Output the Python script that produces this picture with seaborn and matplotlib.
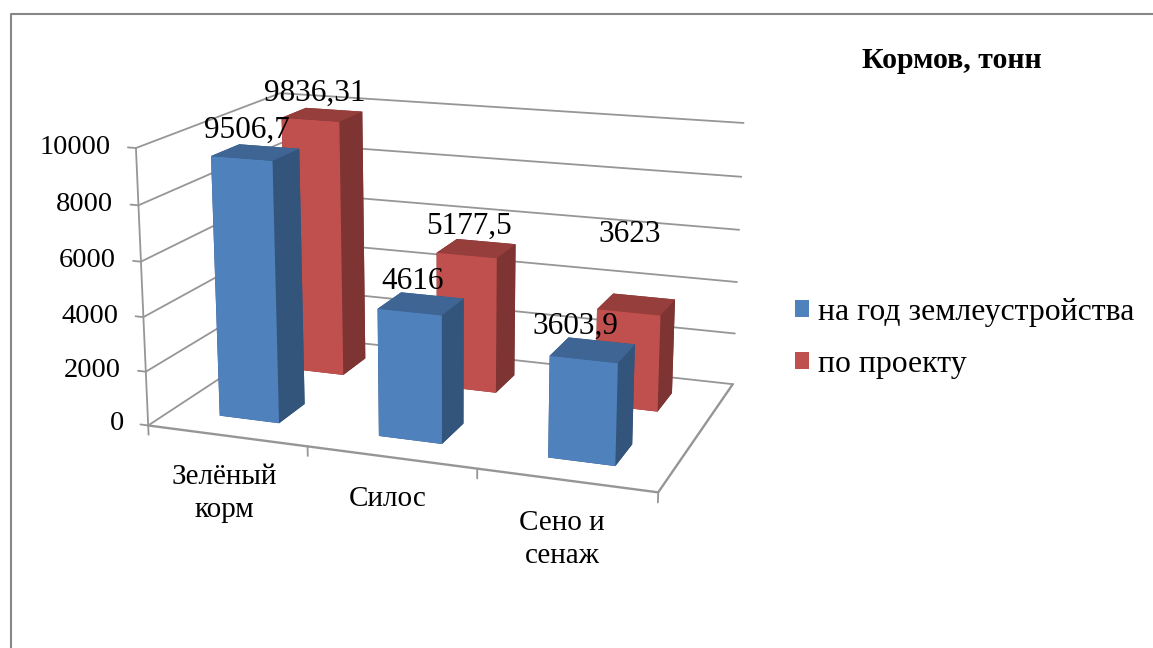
import numpy as np
import pandas as pd
import matplotlib
matplotlib.use("Agg")
import matplotlib.pyplot as plt
from matplotlib.lines import Line2D
from matplotlib.patches import Patch
import seaborn as sns

# chart values
categories = ["Зелёный\nкорм", "Силос", "Сено и\nсенаж"]
series_names = ["на год землеустройства", "по проекту"]
values_now = [9506.7, 4616, 3603.9]
values_project = [9836.31, 5177.5, 3623]
value_labels_now = ["9506,7", "4616", "3603,9"]
value_labels_project = ["9836,31", "5177,5", "3623"]
z_ticks = [0, 2000, 4000, 6000, 8000, 10000]
chart_title = "Кормов, тонн"

sns.set_theme(style="white")
plt.rcParams["font.family"] = ["Liberation Serif", "DejaVu Serif"]
plt.rcParams["text.color"] = "black"
palette = sns.color_palette(["#4F81BD", "#C0504D"])
GRID = "#969696"

df = pd.DataFrame({
    "cat": list(range(3)) * 2,
    "row": [0] * 3 + [1] * 3,
    "value": values_now + values_project,
    "label": value_labels_now + value_labels_project,
})

W, H = 1153, 648
fig = plt.figure(figsize=(W / 100, H / 100), dpi=100)
fig.patch.set_facecolor("white")

S = 650
ax = fig.add_axes([116 / W, 42 / H, S / W, S / H], projection="3d", computed_zorder=False)
ax.set_proj_type("persp", focal_length=0.54)
ax.view_init(elev=15.2, azim=-70)
ax.set_box_aspect((518, 325, 280))
ax.set_xlim(0, 3)
ax.set_ylim(0, 2)
ax.set_zlim(0, 10000)
ax.set_xticks([])
ax.set_yticks([])
ax.set_zticks([])
ax.set_axis_off()
ax.patch.set_alpha(0)

# walls and floor
for z in z_ticks:
    ax.plot([0, 0, 3], [0, 2, 2], [z, z, z], color=GRID, lw=1.3, zorder=1)
    ax.plot([0, -0.05], [0, 0], [z, z], color=GRID, lw=1.3, zorder=1)
    ax.text(-0.16, 0, z - 60, str(z), ha="right", va="center", fontsize=20.5, zorder=20)
ax.plot([0, 0], [0, 0], [0, 10000], color=GRID, lw=1.3, zorder=1)
ax.plot([0, 3, 3], [0, 0, 2], [0, 0, 0], color=GRID, lw=1.7, zorder=1)
for i in range(4):
    ax.plot([i, i], [0, 0], [0, -350], color=GRID, lw=1.3, zorder=1)
for i, cat in enumerate(categories):
    ax.text(i + 0.48, 0, -1060, cat, ha="center", va="top", fontsize=21,
            linespacing=1.35, zorder=20)

# bars, back row first
gap = 0.31
width = 0.38
# labels do not sit exactly over their bars in the original
nudge_x = {"3603,9": -0.05}
nudge_z = {"3623": 1800}
for row in [1, 0]:
    color = np.array(palette[row])
    faces = [color * 0.6, color * 0.78, color, color * 0.65, color * 0.65, color * 0.65]
    for _, r in df[df["row"] == row].sort_values("cat", ascending=False).iterrows():
        ax.bar3d(r["cat"] + gap, row + gap, 0, width, width, r["value"], color=faces,
                 shade=False, linewidth=0, zorder=5 + (1 - row) * 2)
        ax.text(r["cat"] + gap + width / 2 - 0.05 + nudge_x.get(r["label"], 0), row + gap + width / 2,
                r["value"] + 250 + nudge_z.get(r["label"], 0), r["label"],
                ha="center", va="bottom", fontsize=22.5, zorder=21)

handles = [Patch(facecolor=palette[i], edgecolor="none") for i in range(2)]
fig.legend(handles, series_names, loc="upper left", bbox_to_anchor=(795 / W, 1 - 298 / H),
           frameon=False, fontsize=22.9, handlelength=0.45, handleheight=0.45,
           handletextpad=0.28, labelspacing=0.72, borderpad=0, borderaxespad=0)
fig.text(952 / W, 1 - 61 / H, chart_title, ha="center", va="center", fontsize=21.5, fontweight="bold")

# frame of the chart area
fig.add_artist(Line2D([11 / W, 11 / W, 1], [0, 1 - 14 / H, 1 - 14 / H], color="#868686", lw=1.5))

fig.savefig("out.png", dpi=100)
